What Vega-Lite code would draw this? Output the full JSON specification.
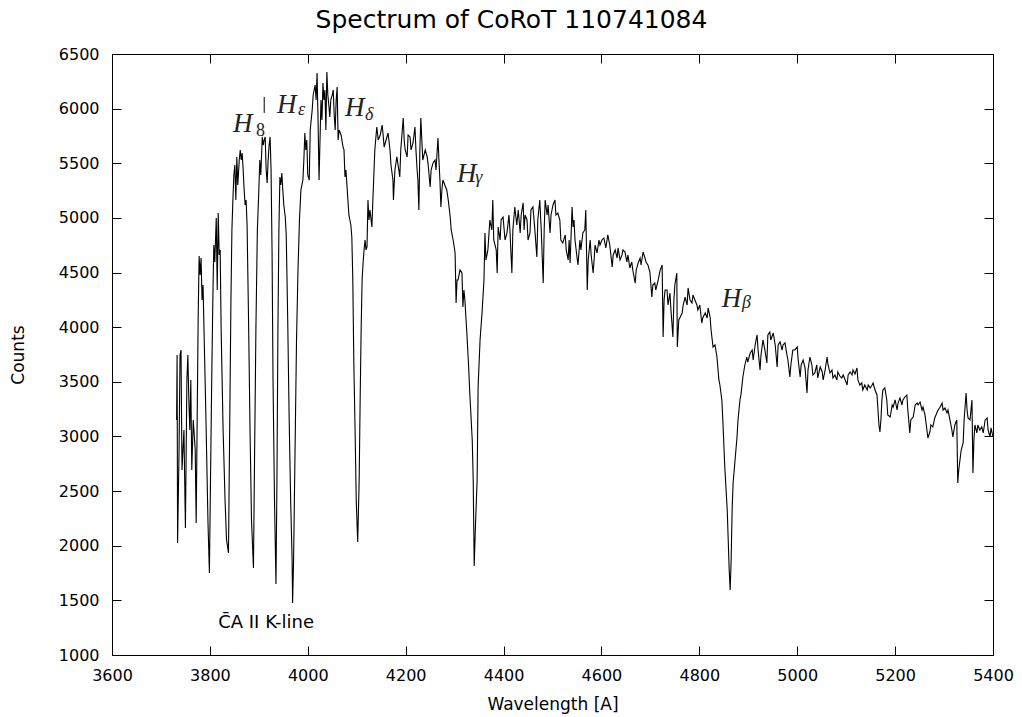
{
"$schema": "https://vega.github.io/schema/vega-lite/v6.json",
"width": 881, "height": 601,
"autosize": {"type": "none"},
"padding": {"left": 112, "top": 54, "right": 29, "bottom": 62},
"background": "white",
"title": {"text": "Spectrum of CoRoT 110741084", "font": "DejaVu Sans", "fontSize": 25, "fontWeight": "normal", "color": "black", "anchor": "middle", "dx": -41, "offset": 13},
"config": {"view": {"stroke": "black", "strokeWidth": 1}},
"resolve": {"axis": {"x": "independent", "y": "independent"}},
"datasets": {
"spec": [
{"w":3732,"c":3151},{"w":3733,"c":3746},{"w":3734,"c":2025},{"w":3737,"c":2876},{"w":3739,"c":3746},{"w":3741,"c":3791},{"w":3743,"c":2693},{"w":3747,"c":3059},{"w":3750,"c":2162},{"w":3752,"c":3059},{"w":3753,"c":3517},{"w":3755,"c":3746},{"w":3757,"c":3334},{"w":3759,"c":3059},{"w":3761,"c":3517},{"w":3763,"c":2693},{"w":3766,"c":3151},{"w":3770,"c":2876},{"w":3772,"c":2208},{"w":3774,"c":3151},{"w":3776,"c":4066},{"w":3778,"c":4652},{"w":3780,"c":4478},{"w":3782,"c":4633},{"w":3784,"c":4249},{"w":3786,"c":4386},{"w":3788,"c":3974},{"w":3792,"c":3151},{"w":3796,"c":2236},{"w":3799,"c":1750},{"w":3801,"c":2510},{"w":3804,"c":3608},{"w":3806,"c":4249},{"w":3808,"c":4752},{"w":3810,"c":4597},{"w":3813,"c":4999},{"w":3815,"c":4340},{"w":3817,"c":5045},{"w":3819,"c":4661},{"w":3821,"c":4707},{"w":3823,"c":3974},{"w":3827,"c":3059},{"w":3831,"c":2419},{"w":3834,"c":2053},{"w":3838,"c":1934},{"w":3840,"c":2876},{"w":3843,"c":4249},{"w":3845,"c":4890},{"w":3847,"c":5164},{"w":3849,"c":5393},{"w":3851,"c":5484},{"w":3853,"c":5164},{"w":3855,"c":5558},{"w":3857,"c":5301},{"w":3860,"c":5530},{"w":3862,"c":5622},{"w":3864,"c":5530},{"w":3866,"c":5594},{"w":3868,"c":5439},{"w":3870,"c":5256},{"w":3872,"c":5118},{"w":3874,"c":5164},{"w":3876,"c":4935},{"w":3879,"c":4066},{"w":3882,"c":3059},{"w":3885,"c":2236},{"w":3889,"c":1796},{"w":3891,"c":2693},{"w":3894,"c":3974},{"w":3897,"c":4890},{"w":3900,"c":5256},{"w":3902,"c":5530},{"w":3904,"c":5393},{"w":3907,"c":5741},{"w":3909,"c":5667},{"w":3911,"c":5713},{"w":3913,"c":5741},{"w":3915,"c":5439},{"w":3917,"c":5320},{"w":3919,"c":5530},{"w":3921,"c":5667},{"w":3923,"c":5741},{"w":3925,"c":5439},{"w":3927,"c":4707},{"w":3929,"c":3517},{"w":3932,"c":2419},{"w":3935,"c":1650},{"w":3937,"c":2602},{"w":3939,"c":3974},{"w":3941,"c":4890},{"w":3943,"c":5374},{"w":3945,"c":5301},{"w":3947,"c":5411},{"w":3949,"c":5256},{"w":3951,"c":5118},{"w":3954,"c":5008},{"w":3956,"c":4844},{"w":3959,"c":4066},{"w":3962,"c":3151},{"w":3965,"c":2419},{"w":3968,"c":1870},{"w":3969,"c":1476},{"w":3971,"c":1870},{"w":3974,"c":2876},{"w":3977,"c":3883},{"w":3980,"c":4523},{"w":3983,"c":4981},{"w":3986,"c":5256},{"w":3988,"c":5301},{"w":3990,"c":5347},{"w":3992,"c":5530},{"w":3994,"c":5777},{"w":3996,"c":5622},{"w":3998,"c":5713},{"w":4000,"c":5393},{"w":4003,"c":5347},{"w":4005,"c":5805},{"w":4009,"c":5988},{"w":4011,"c":6125},{"w":4015,"c":6216},{"w":4017,"c":6079},{"w":4019,"c":6326},{"w":4021,"c":5896},{"w":4023,"c":5347},{"w":4025,"c":5713},{"w":4027,"c":6079},{"w":4029,"c":5896},{"w":4031,"c":6235},{"w":4033,"c":6079},{"w":4035,"c":6171},{"w":4037,"c":5805},{"w":4039,"c":6335},{"w":4041,"c":6125},{"w":4043,"c":6033},{"w":4045,"c":5924},{"w":4047,"c":6079},{"w":4050,"c":6125},{"w":4052,"c":6171},{"w":4054,"c":5942},{"w":4056,"c":5805},{"w":4058,"c":6079},{"w":4060,"c":6198},{"w":4062,"c":5713},{"w":4064,"c":5805},{"w":4068,"c":5759},{"w":4072,"c":5649},{"w":4074,"c":5622},{"w":4076,"c":5374},{"w":4078,"c":5439},{"w":4082,"c":5164},{"w":4084,"c":5027},{"w":4088,"c":4935},{"w":4090,"c":4826},{"w":4092,"c":4432},{"w":4094,"c":3700},{"w":4097,"c":2968},{"w":4099,"c":2419},{"w":4102,"c":2034},{"w":4105,"c":2602},{"w":4107,"c":3334},{"w":4109,"c":3974},{"w":4111,"c":4432},{"w":4113,"c":4588},{"w":4115,"c":4707},{"w":4117,"c":4798},{"w":4119,"c":4707},{"w":4121,"c":4734},{"w":4123,"c":5164},{"w":4125,"c":4981},{"w":4127,"c":5073},{"w":4131,"c":4917},{"w":4133,"c":5164},{"w":4137,"c":5622},{"w":4141,"c":5832},{"w":4144,"c":5713},{"w":4148,"c":5759},{"w":4152,"c":5850},{"w":4154,"c":5759},{"w":4156,"c":5649},{"w":4160,"c":5713},{"w":4164,"c":5777},{"w":4168,"c":5622},{"w":4170,"c":5484},{"w":4174,"c":5347},{"w":4175,"c":5164},{"w":4178,"c":5439},{"w":4182,"c":5558},{"w":4186,"c":5439},{"w":4188,"c":5374},{"w":4190,"c":5622},{"w":4195,"c":5914},{"w":4197,"c":5713},{"w":4199,"c":5622},{"w":4203,"c":5558},{"w":4205,"c":5759},{"w":4209,"c":5741},{"w":4211,"c":5622},{"w":4215,"c":5686},{"w":4217,"c":5759},{"w":4219,"c":5832},{"w":4221,"c":5622},{"w":4223,"c":5466},{"w":4225,"c":5347},{"w":4227,"c":5073},{"w":4229,"c":5622},{"w":4231,"c":5914},{"w":4233,"c":5713},{"w":4235,"c":5530},{"w":4240,"c":5622},{"w":4244,"c":5558},{"w":4246,"c":5484},{"w":4250,"c":5283},{"w":4252,"c":5439},{"w":4256,"c":5503},{"w":4260,"c":5530},{"w":4262,"c":5439},{"w":4266,"c":5731},{"w":4268,"c":5530},{"w":4270,"c":5347},{"w":4272,"c":5100},{"w":4274,"c":5256},{"w":4276,"c":5347},{"w":4280,"c":5301},{"w":4284,"c":5256},{"w":4287,"c":5164},{"w":4291,"c":5008},{"w":4293,"c":4890},{"w":4297,"c":4798},{"w":4301,"c":4679},{"w":4303,"c":4221},{"w":4305,"c":4432},{"w":4307,"c":4432},{"w":4311,"c":4523},{"w":4315,"c":4496},{"w":4317,"c":4185},{"w":4319,"c":4340},{"w":4321,"c":4249},{"w":4325,"c":3947},{"w":4329,"c":3608},{"w":4331,"c":3398},{"w":4336,"c":2968},{"w":4338,"c":2602},{"w":4340,"c":1815},{"w":4343,"c":2236},{"w":4346,"c":2602},{"w":4348,"c":3453},{"w":4352,"c":3883},{"w":4356,"c":4130},{"w":4360,"c":4432},{"w":4362,"c":4862},{"w":4364,"c":4615},{"w":4368,"c":4707},{"w":4372,"c":4981},{"w":4376,"c":4890},{"w":4378,"c":5164},{"w":4380,"c":4798},{"w":4385,"c":4707},{"w":4387,"c":4496},{"w":4389,"c":4917},{"w":4393,"c":4798},{"w":4395,"c":4981},{"w":4399,"c":5008},{"w":4403,"c":4798},{"w":4407,"c":4862},{"w":4411,"c":5027},{"w":4413,"c":4890},{"w":4417,"c":4496},{"w":4419,"c":4890},{"w":4423,"c":5100},{"w":4427,"c":4935},{"w":4430,"c":5073},{"w":4434,"c":4862},{"w":4436,"c":5027},{"w":4440,"c":5137},{"w":4442,"c":4890},{"w":4444,"c":5027},{"w":4448,"c":4981},{"w":4450,"c":4798},{"w":4454,"c":4862},{"w":4456,"c":5073},{"w":4460,"c":5100},{"w":4464,"c":4890},{"w":4468,"c":4642},{"w":4470,"c":4981},{"w":4474,"c":5164},{"w":4477,"c":4890},{"w":4481,"c":4404},{"w":4483,"c":4890},{"w":4485,"c":5164},{"w":4489,"c":5027},{"w":4491,"c":5118},{"w":4495,"c":4862},{"w":4497,"c":5027},{"w":4501,"c":5118},{"w":4505,"c":5164},{"w":4507,"c":5027},{"w":4511,"c":5045},{"w":4515,"c":4981},{"w":4517,"c":4798},{"w":4521,"c":4770},{"w":4526,"c":4844},{"w":4528,"c":4707},{"w":4532,"c":4615},{"w":4534,"c":4798},{"w":4536,"c":4588},{"w":4540,"c":5100},{"w":4542,"c":4917},{"w":4544,"c":4981},{"w":4546,"c":4798},{"w":4550,"c":4642},{"w":4552,"c":4569},{"w":4556,"c":4798},{"w":4558,"c":4707},{"w":4562,"c":4862},{"w":4566,"c":4890},{"w":4568,"c":5073},{"w":4571,"c":4340},{"w":4573,"c":4615},{"w":4577,"c":4798},{"w":4579,"c":4661},{"w":4583,"c":4496},{"w":4585,"c":4615},{"w":4587,"c":4752},{"w":4591,"c":4679},{"w":4595,"c":4798},{"w":4597,"c":4752},{"w":4601,"c":4798},{"w":4605,"c":4816},{"w":4609,"c":4725},{"w":4613,"c":4844},{"w":4617,"c":4752},{"w":4622,"c":4551},{"w":4624,"c":4661},{"w":4628,"c":4707},{"w":4632,"c":4633},{"w":4634,"c":4725},{"w":4638,"c":4615},{"w":4642,"c":4661},{"w":4644,"c":4707},{"w":4648,"c":4688},{"w":4652,"c":4597},{"w":4654,"c":4661},{"w":4658,"c":4542},{"w":4662,"c":4597},{"w":4664,"c":4523},{"w":4669,"c":4404},{"w":4671,"c":4523},{"w":4675,"c":4588},{"w":4679,"c":4633},{"w":4681,"c":4569},{"w":4685,"c":4688},{"w":4689,"c":4633},{"w":4691,"c":4597},{"w":4695,"c":4569},{"w":4699,"c":4505},{"w":4703,"c":4276},{"w":4705,"c":4386},{"w":4709,"c":4404},{"w":4711,"c":4340},{"w":4716,"c":4432},{"w":4720,"c":4523},{"w":4724,"c":4569},{"w":4726,"c":3910},{"w":4728,"c":4249},{"w":4730,"c":4340},{"w":4734,"c":4340},{"w":4736,"c":4203},{"w":4740,"c":4313},{"w":4742,"c":4157},{"w":4746,"c":3910},{"w":4748,"c":4249},{"w":4750,"c":4386},{"w":4754,"c":4496},{"w":4755,"c":3819},{"w":4758,"c":4066},{"w":4761,"c":4093},{"w":4765,"c":4130},{"w":4767,"c":4203},{"w":4771,"c":4276},{"w":4775,"c":4203},{"w":4777,"c":4359},{"w":4781,"c":4249},{"w":4785,"c":4221},{"w":4787,"c":4295},{"w":4791,"c":4249},{"w":4795,"c":4203},{"w":4797,"c":4157},{"w":4801,"c":4203},{"w":4805,"c":4038},{"w":4807,"c":4084},{"w":4812,"c":4130},{"w":4816,"c":4084},{"w":4818,"c":4176},{"w":4822,"c":4093},{"w":4824,"c":3974},{"w":4828,"c":3819},{"w":4832,"c":3837},{"w":4836,"c":3727},{"w":4840,"c":3517},{"w":4842,"c":3471},{"w":4846,"c":3334},{"w":4848,"c":3151},{"w":4852,"c":2720},{"w":4857,"c":2327},{"w":4859,"c":2053},{"w":4861,"c":1778},{"w":4863,"c":1595},{"w":4865,"c":1870},{"w":4867,"c":2327},{"w":4869,"c":2574},{"w":4873,"c":2785},{"w":4877,"c":2995},{"w":4879,"c":3151},{"w":4883,"c":3334},{"w":4885,"c":3380},{"w":4889,"c":3544},{"w":4893,"c":3654},{"w":4897,"c":3727},{"w":4899,"c":3681},{"w":4904,"c":3764},{"w":4908,"c":3791},{"w":4910,"c":3700},{"w":4914,"c":3837},{"w":4918,"c":3929},{"w":4920,"c":3791},{"w":4924,"c":3608},{"w":4926,"c":3746},{"w":4930,"c":3883},{"w":4934,"c":3791},{"w":4938,"c":3672},{"w":4940,"c":3929},{"w":4944,"c":3956},{"w":4946,"c":3883},{"w":4951,"c":3947},{"w":4955,"c":3837},{"w":4959,"c":3636},{"w":4961,"c":3837},{"w":4965,"c":3865},{"w":4969,"c":3791},{"w":4971,"c":3837},{"w":4975,"c":3856},{"w":4979,"c":3746},{"w":4981,"c":3700},{"w":4985,"c":3544},{"w":4987,"c":3654},{"w":4991,"c":3791},{"w":4995,"c":3791},{"w":5000,"c":3819},{"w":5002,"c":3700},{"w":5006,"c":3544},{"w":5008,"c":3654},{"w":5012,"c":3700},{"w":5016,"c":3627},{"w":5020,"c":3398},{"w":5022,"c":3608},{"w":5026,"c":3727},{"w":5030,"c":3654},{"w":5032,"c":3563},{"w":5036,"c":3581},{"w":5040,"c":3654},{"w":5042,"c":3535},{"w":5047,"c":3636},{"w":5051,"c":3590},{"w":5053,"c":3517},{"w":5057,"c":3608},{"w":5061,"c":3727},{"w":5063,"c":3654},{"w":5067,"c":3581},{"w":5071,"c":3608},{"w":5073,"c":3535},{"w":5077,"c":3563},{"w":5081,"c":3517},{"w":5083,"c":3590},{"w":5087,"c":3553},{"w":5091,"c":3535},{"w":5094,"c":3563},{"w":5098,"c":3517},{"w":5102,"c":3471},{"w":5104,"c":3563},{"w":5108,"c":3590},{"w":5112,"c":3563},{"w":5114,"c":3608},{"w":5118,"c":3572},{"w":5122,"c":3627},{"w":5124,"c":3517},{"w":5128,"c":3471},{"w":5132,"c":3489},{"w":5134,"c":3425},{"w":5138,"c":3471},{"w":5143,"c":3425},{"w":5145,"c":3471},{"w":5149,"c":3444},{"w":5153,"c":3471},{"w":5155,"c":3489},{"w":5159,"c":3425},{"w":5163,"c":3380},{"w":5165,"c":3242},{"w":5167,"c":3105},{"w":5169,"c":3041},{"w":5171,"c":3151},{"w":5173,"c":3334},{"w":5175,"c":3425},{"w":5179,"c":3444},{"w":5183,"c":3334},{"w":5185,"c":3197},{"w":5190,"c":3178},{"w":5194,"c":3288},{"w":5196,"c":3269},{"w":5200,"c":3334},{"w":5204,"c":3242},{"w":5206,"c":3306},{"w":5210,"c":3352},{"w":5214,"c":3288},{"w":5216,"c":3334},{"w":5220,"c":3361},{"w":5224,"c":3380},{"w":5226,"c":3242},{"w":5230,"c":3032},{"w":5232,"c":3151},{"w":5237,"c":3178},{"w":5241,"c":3288},{"w":5245,"c":3306},{"w":5247,"c":3288},{"w":5251,"c":3315},{"w":5255,"c":3242},{"w":5257,"c":3269},{"w":5261,"c":3197},{"w":5265,"c":3059},{"w":5267,"c":2986},{"w":5271,"c":3041},{"w":5273,"c":3105},{"w":5277,"c":3087},{"w":5281,"c":3169},{"w":5286,"c":3224},{"w":5288,"c":3242},{"w":5292,"c":3269},{"w":5296,"c":3306},{"w":5298,"c":3242},{"w":5302,"c":3260},{"w":5306,"c":3215},{"w":5308,"c":3242},{"w":5312,"c":3151},{"w":5316,"c":3059},{"w":5318,"c":2995},{"w":5322,"c":3105},{"w":5326,"c":3151},{"w":5328,"c":2574},{"w":5330,"c":2693},{"w":5335,"c":2876},{"w":5339,"c":2940},{"w":5341,"c":3151},{"w":5345,"c":3398},{"w":5347,"c":3242},{"w":5349,"c":3169},{"w":5353,"c":3151},{"w":5355,"c":3242},{"w":5357,"c":3334},{"w":5359,"c":2666},{"w":5361,"c":2968},{"w":5363,"c":3105},{"w":5367,"c":3032},{"w":5369,"c":3105},{"w":5373,"c":3059},{"w":5377,"c":3087},{"w":5380,"c":3032},{"w":5384,"c":3151},{"w":5388,"c":3169},{"w":5390,"c":3059},{"w":5394,"c":2995},{"w":5396,"c":3078},{"w":5400,"c":2995}
],
"marker": [{"w": 3911, "c1": 6107, "c2": 5961}],
"hmain": [
{"w":3847,"c":5786,"t":"H"},{"w":3937,"c":5960,"t":"H"},{"w":4076,"c":5933,"t":"H"},{"w":4305,"c":5329,"t":"H"},{"w":4846,"c":4185,"t":"H"}
],
"hsub": [
{"w":3980,"c":5942,"t":"ε"},{"w":4117,"c":5896,"t":"δ"},{"w":4342,"c":5320,"t":"γ"},{"w":4887,"c":4180,"t":"β"}
],
"hnum": [{"w":3894,"c":5750,"t":"8"}],
"note": [{"w":3817,"c":1247,"t":"C̄A II K-line"}]
},
"layer": [
{"data": {"name": "spec"},
 "mark": {"type": "line", "color": "black", "strokeWidth": 1.1},
 "encoding": {
  "x": {"field": "w", "type": "quantitative", "scale": {"domain": [3600, 5400], "nice": false, "zero": false},
        "axis": {"orient": "bottom", "offset": -9, "domain": false, "values": [3600,3800,4000,4200,4400,4600,4800,5000,5200,5400], "format": "d", "grid": false, "ticks": true, "tickSize": 9, "tickWidth": 1, "tickColor": "black", "labelPadding": 12, "labelFont": "DejaVu Sans", "labelFontSize": 16, "labelColor": "black", "labelFlush": false, "labelOverlap": false, "labelBound": false, "title": "Wavelength [A]", "titleFont": "DejaVu Sans", "titleFontSize": 17, "titleFontWeight": "normal", "titleColor": "black", "titlePadding": 13}},
  "y": {"field": "c", "type": "quantitative", "scale": {"domain": [1000, 6500], "nice": false, "zero": false},
        "axis": {"orient": "left", "offset": -9, "domain": false, "values": [1000,1500,2000,2500,3000,3500,4000,4500,5000,5500,6000,6500], "format": "d", "grid": false, "ticks": true, "tickSize": 9, "tickWidth": 1, "tickColor": "black", "labelPadding": 13, "labelFont": "DejaVu Sans", "labelFontSize": 16, "labelColor": "black", "labelFlush": false, "labelOverlap": false, "labelBound": false, "title": "Counts", "titleFont": "DejaVu Sans", "titleFontSize": 17, "titleFontWeight": "normal", "titleColor": "black", "titlePadding": 31}}
 }},
{"data": {"name": "marker"},
 "mark": {"type": "rule", "color": "black", "strokeWidth": 1},
 "encoding": {
  "x": {"field": "w", "type": "quantitative", "axis": {"orient": "top", "offset": -9, "domain": false, "values": [3600,3800,4000,4200,4400,4600,4800,5000,5200,5400], "labels": false, "title": null, "grid": false, "ticks": true, "tickSize": 9, "tickWidth": 1, "tickColor": "black"}},
  "y": {"field": "c1", "type": "quantitative", "axis": {"orient": "right", "offset": -9, "domain": false, "values": [1000,1500,2000,2500,3000,3500,4000,4500,5000,5500,6000,6500], "labels": false, "title": null, "grid": false, "ticks": true, "tickSize": 9, "tickWidth": 1, "tickColor": "black"}},
  "y2": {"field": "c2"}
 }},
{"data": {"name": "hmain"},
 "mark": {"type": "text", "font": "Liberation Serif", "fontStyle": "italic", "fontSize": 27, "align": "left", "baseline": "alphabetic", "color": "#222"},
 "encoding": {"x": {"field": "w", "type": "quantitative", "axis": null}, "y": {"field": "c", "type": "quantitative", "axis": null}, "text": {"field": "t"}}},
{"data": {"name": "hsub"},
 "mark": {"type": "text", "font": "Liberation Serif", "fontStyle": "italic", "fontSize": 18, "align": "left", "baseline": "alphabetic", "color": "#222"},
 "encoding": {"x": {"field": "w", "type": "quantitative", "axis": null}, "y": {"field": "c", "type": "quantitative", "axis": null}, "text": {"field": "t"}}},
{"data": {"name": "hnum"},
 "mark": {"type": "text", "font": "Liberation Serif", "fontSize": 18, "align": "left", "baseline": "alphabetic", "color": "#222"},
 "encoding": {"x": {"field": "w", "type": "quantitative", "axis": null}, "y": {"field": "c", "type": "quantitative", "axis": null}, "text": {"field": "t"}}},
{"data": {"name": "note"},
 "mark": {"type": "text", "font": "DejaVu Sans", "fontSize": 18, "align": "left", "baseline": "alphabetic", "color": "black"},
 "encoding": {"x": {"field": "w", "type": "quantitative", "axis": null}, "y": {"field": "c", "type": "quantitative", "axis": null}, "text": {"field": "t"}}}
]
}
